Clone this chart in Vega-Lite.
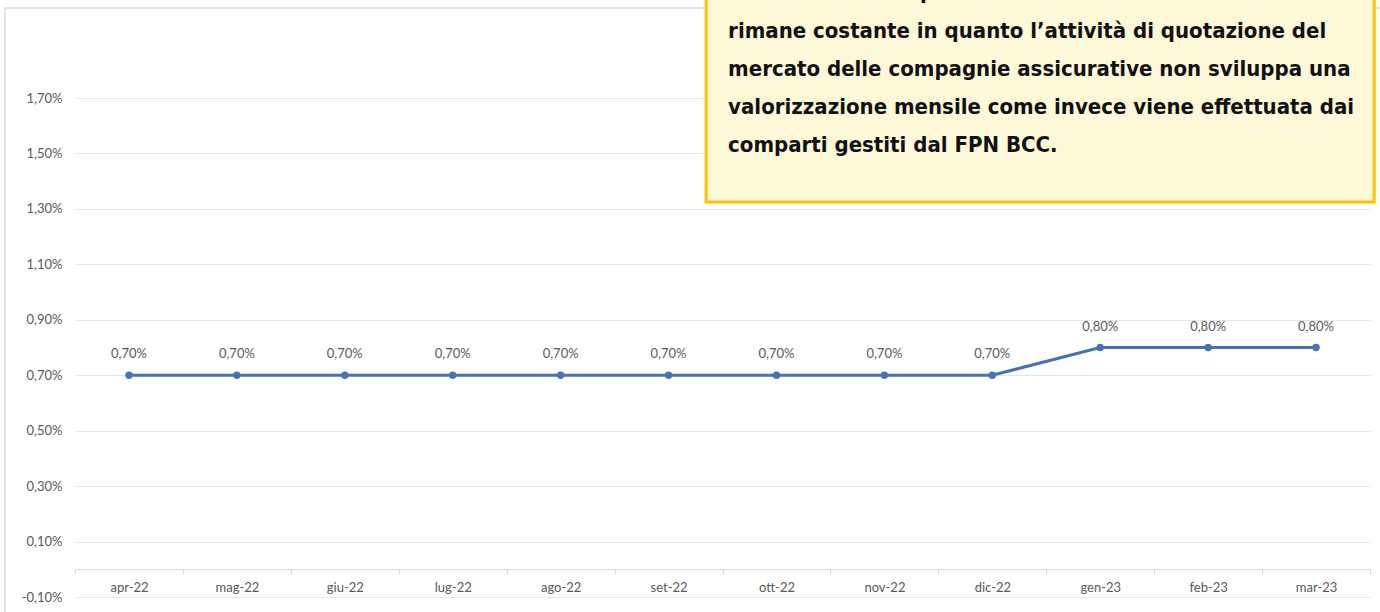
{
  "$schema": "https://vega.github.io/schema/vega-lite/v6.json",
  "width": 1295,
  "height": 499,
  "autosize": {"type": "none"},
  "padding": {"left": 75, "top": 98, "right": 10, "bottom": 15},
  "background": "#ffffff",
  "config": {
    "view": {"stroke": null},
    "locale": {
      "number": {"decimal": ",", "thousands": ".", "grouping": [3], "currency": ["", "%"], "minus": "-"}
    },
    "font": "Lato"
  },
  "data": {
    "values": [
      {"mese": "apr-22", "n": 0, "rendimento": 0.7},
      {"mese": "mag-22", "n": 1, "rendimento": 0.7},
      {"mese": "giu-22", "n": 2, "rendimento": 0.7},
      {"mese": "lug-22", "n": 3, "rendimento": 0.7},
      {"mese": "ago-22", "n": 4, "rendimento": 0.7},
      {"mese": "set-22", "n": 5, "rendimento": 0.7},
      {"mese": "ott-22", "n": 6, "rendimento": 0.7},
      {"mese": "nov-22", "n": 7, "rendimento": 0.7},
      {"mese": "dic-22", "n": 8, "rendimento": 0.7},
      {"mese": "gen-23", "n": 9, "rendimento": 0.8},
      {"mese": "feb-23", "n": 10, "rendimento": 0.8},
      {"mese": "mar-23", "n": 11, "rendimento": 0.8}
    ]
  },
  "layer": [
    {
      "data": {"values": [{}]},
      "mark": {"type": "rect", "filled": false, "stroke": "#d9d9d9", "strokeWidth": 1.5, "clip": false},
      "encoding": {
        "x": {"datum": -1.149, "type": "quantitative", "scale": {"domain": [-0.5, 11.5], "nice": false, "zero": false},
          "axis": {
            "values": [-0.5, 0.5, 1.5, 2.5, 3.5, 4.5, 5.5, 6.5, 7.5, 8.5, 9.5, 10.5, 11.5],
            "labelExpr": "['apr-22','mag-22','giu-22','lug-22','ago-22','set-22','ott-22','nov-22','dic-22','gen-23','feb-23','mar-23'][floor(datum.value + 0.5)] || ''",
            "labelOffset": 54,
            "labelFlush": false,
            "labelOverlap": false,
            "labelBound": false,
            "labelAlign": "center",
            "labelBaseline": "top",
            "labelFontSize": 13,
            "labelColor": "#595959",
            "labelFont": "Lato",
            "labelPadding": 7,
            "tickSize": 5,
            "tickColor": "#d9d9d9",
            "domainColor": "#d9d9d9",
            "domainWidth": 1.2,
            "grid": false,
            "offset": -28,
            "title": null
          }
        },
        "x2": {"datum": 12.6},
        "y": {"datum": 2.025, "type": "quantitative", "scale": {"domain": [-0.1, 1.7], "nice": false, "zero": false},
          "axis": {
            "values": [-0.1, 0.1, 0.3, 0.5, 0.7, 0.9, 1.1, 1.3, 1.5, 1.7],
            "format": "$.2f",
            "labelFontSize": 13,
            "labelColor": "#595959",
            "labelFont": "Lato",
            "labelPadding": 13,
            "ticks": false,
            "domain": false,
            "grid": true,
            "gridColor": "#e6e6e6",
            "gridWidth": 1,
            "title": null
          }
        },
        "y2": {"datum": -0.5}
      }
    },
    {
      "mark": {"type": "line", "color": "#4673b6", "strokeWidth": 3},
      "encoding": {
        "x": {"field": "n", "type": "quantitative"},
        "y": {"field": "rendimento", "type": "quantitative"}
      }
    },
    {
      "mark": {"type": "point", "filled": true, "color": "#4673b6", "size": 55, "opacity": 1},
      "encoding": {
        "x": {"field": "n", "type": "quantitative"},
        "y": {"field": "rendimento", "type": "quantitative"}
      }
    },
    {
      "mark": {"type": "text", "dy": -21, "fontSize": 13, "color": "#595959", "font": "Lato"},
      "encoding": {
        "x": {"field": "n", "type": "quantitative"},
        "y": {"field": "rendimento", "type": "quantitative"},
        "text": {"field": "rendimento", "type": "quantitative", "format": "$.2f"}
      }
    },
    {
      "data": {"values": [{}]},
      "mark": {"type": "rect", "fill": "#fdf8d8", "stroke": "#ffc000", "strokeWidth": 3, "clip": false},
      "encoding": {
        "x": {"datum": 5.348, "type": "quantitative"},
        "x2": {"datum": 11.539},
        "y": {"datum": 2.4, "type": "quantitative"},
        "y2": {"datum": 1.325}
      }
    },
    {
      "data": {"values": [{}]},
      "mark": {
        "type": "text",
        "align": "left",
        "baseline": "alphabetic",
        "font": "Liberation Sans Narrow, DejaVu Sans Condensed, Roboto Condensed, Roboto",
        "fontWeight": "bold",
        "fontSize": 22,
        "lineHeight": 38.3,
        "color": "#111111",
        "clip": false,
        "text": [
          "volta all'anno. E' per tale motivo che il rendimento",
          "rimane costante in quanto l’attività di quotazione del",
          "mercato delle compagnie assicurative non sviluppa una",
          "valorizzazione mensile come invece viene effettuata dai",
          "comparti gestiti dal FPN BCC."
        ]
      },
      "encoding": {
        "x": {"datum": 5.552, "type": "quantitative"},
        "y": {"datum": 2.056, "type": "quantitative"}
      }
    }
  ]
}
